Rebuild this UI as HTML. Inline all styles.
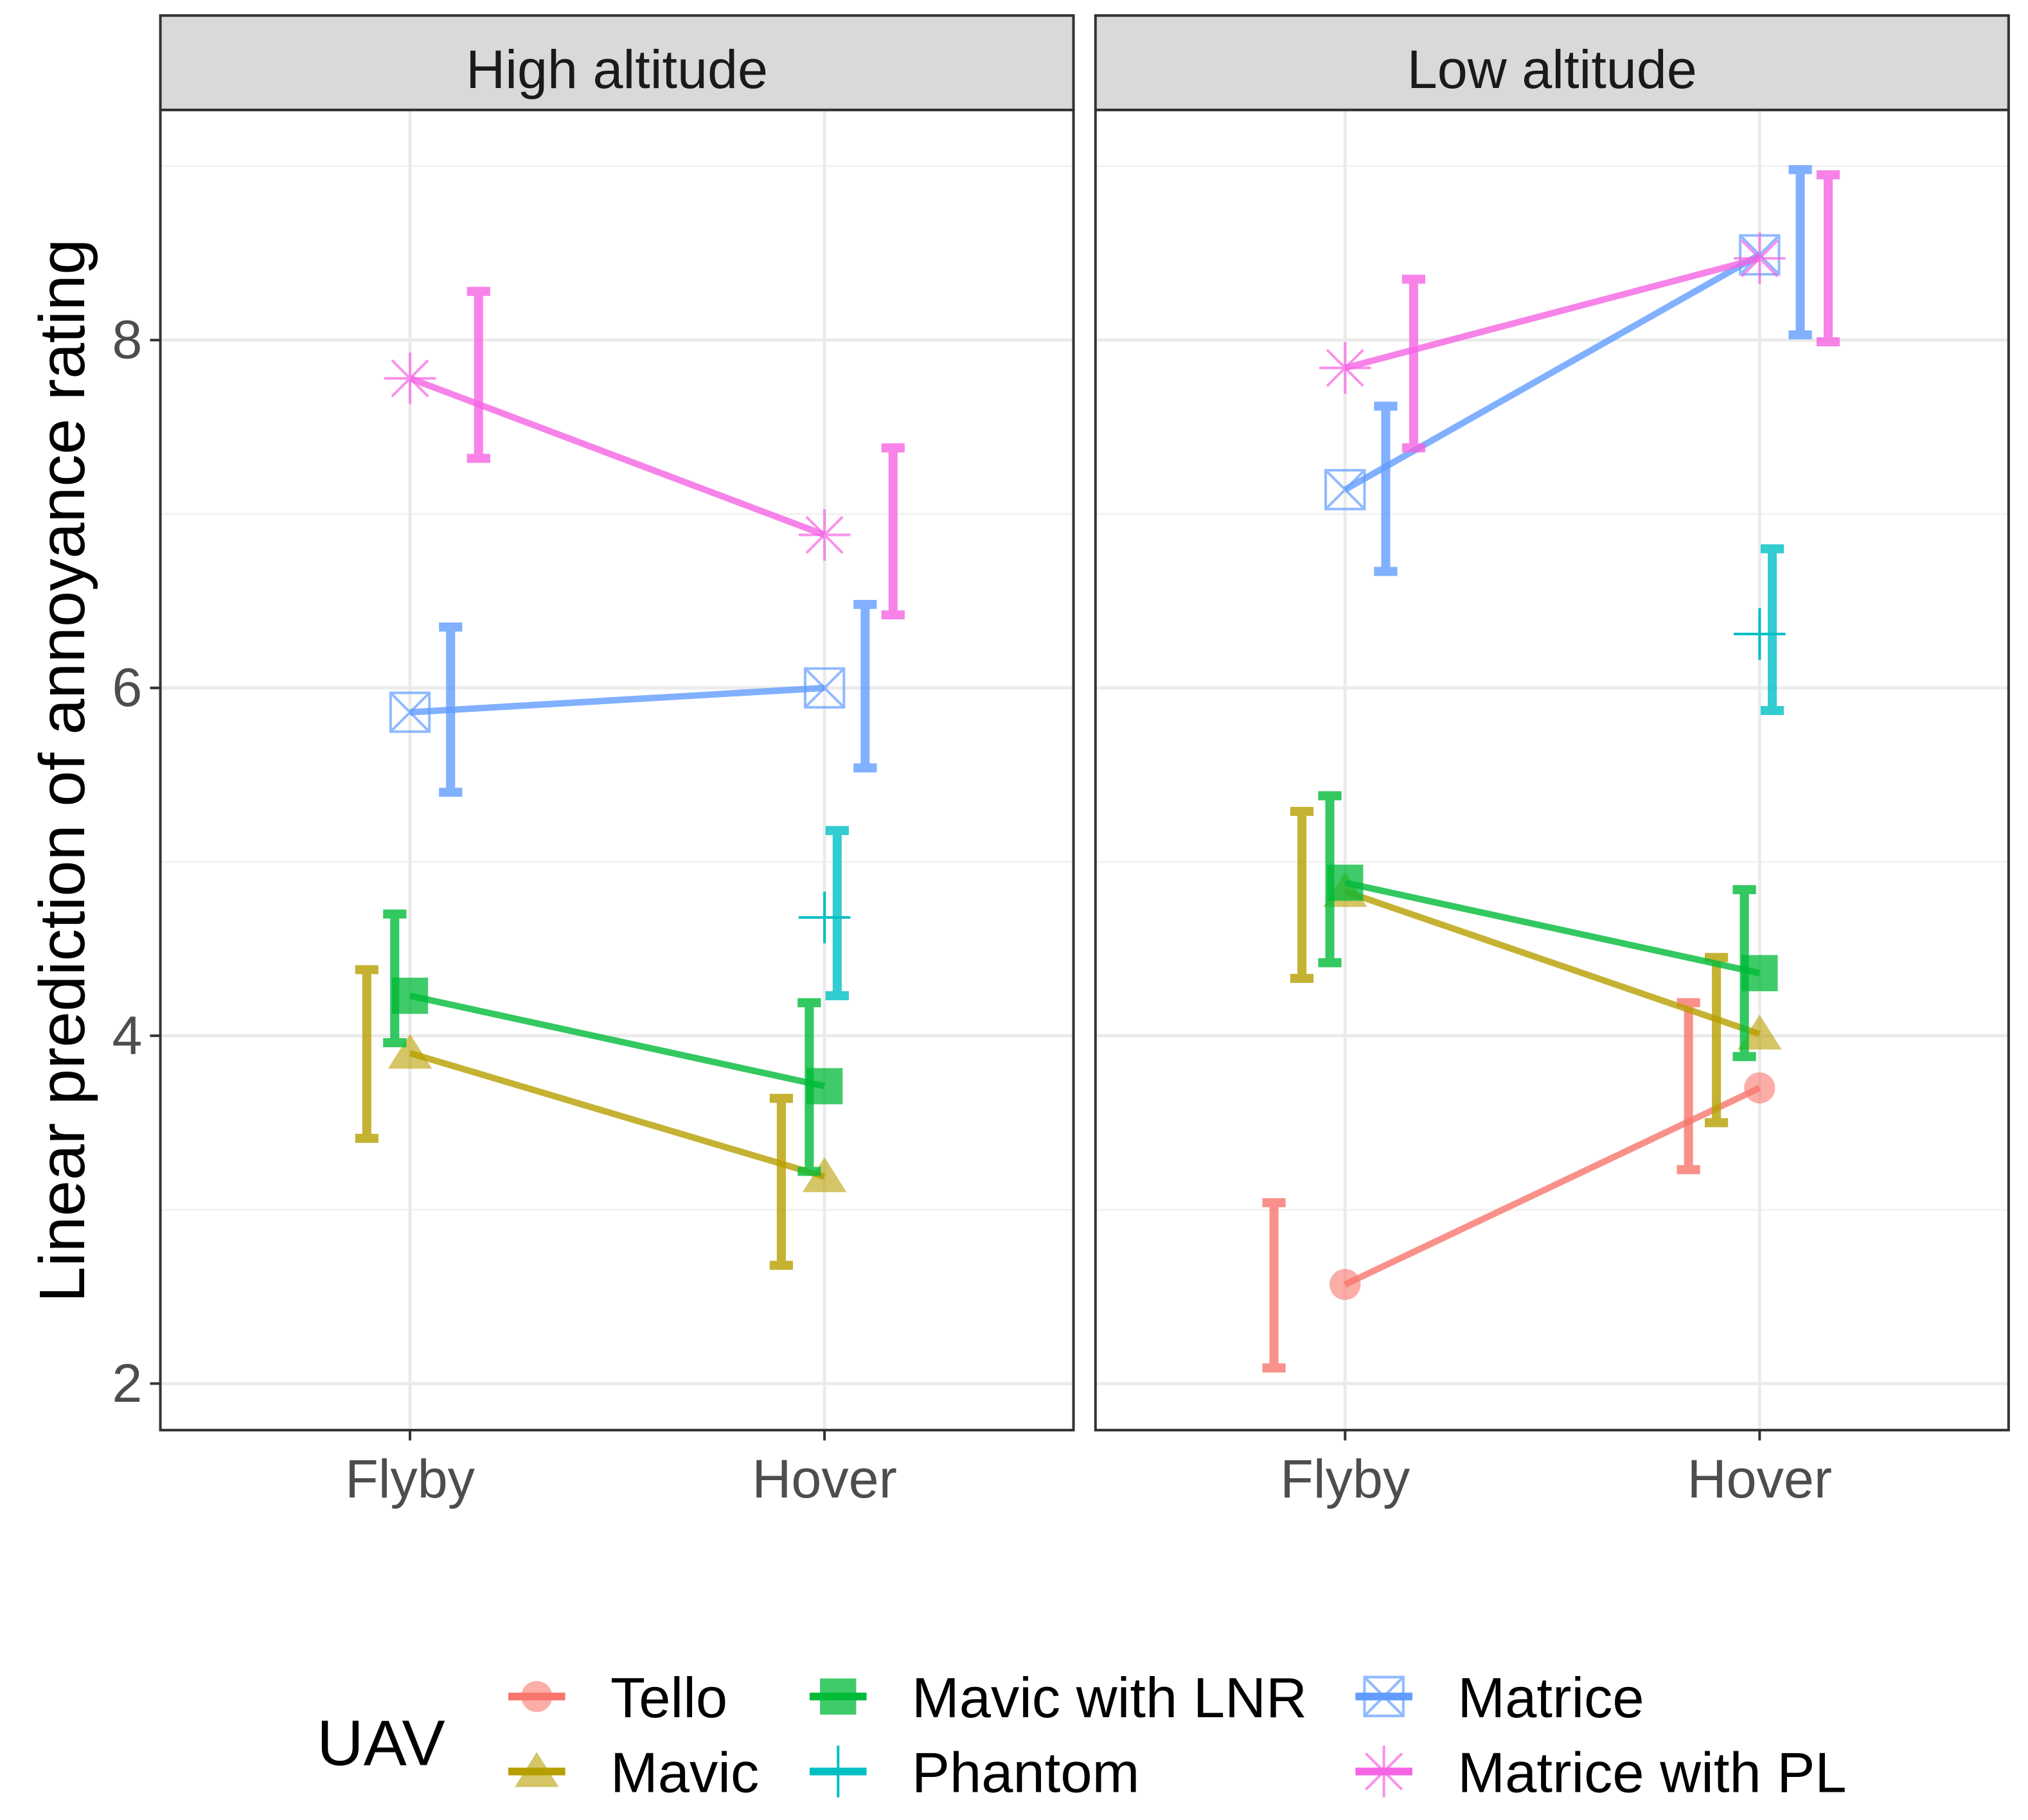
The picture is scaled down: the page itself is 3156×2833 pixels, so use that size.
<!DOCTYPE html>
<html><head><meta charset="utf-8"><style>
html,body{margin:0;padding:0;background:#fff}
svg{display:block}
text{font-family:"Liberation Sans",sans-serif}
</style></head><body>
<svg id="chart" width="3156" height="2833" viewBox="0 0 1568 1407.5" xmlns="http://www.w3.org/2000/svg">
<rect width="1568" height="1408" fill="#fff"/>
<g id="panels"></g>
<text transform="translate(65,596) rotate(-90)" text-anchor="middle" font-size="50" fill="#000">Linear prediction of annoyance rating</text>
<g id="legend"></g>
</svg>
<script>
const panels = ["High altitude","Low altitude"];
const conditions = ["Flyby","Hover"];
const series = ["Tello","Mavic","Mavic with LNR","Phantom","Matrice","Matrice with PL"];
const colors = ["#F8766D","#B79F00","#00BA38","#00BFC4","#619CFF","#F564E3"];
const yTicks = [2,4,6,8];
const estHigh = [[null,null],[3.90,3.19],[4.23,3.71],[null,4.68],[5.86,6.00],[7.78,6.88]];
const loHigh  = [[null,null],[3.41,2.68],[3.96,3.22],[null,4.23],[5.40,5.54],[7.32,6.42]];
const upHigh  = [[null,null],[4.38,3.64],[4.70,4.19],[null,5.18],[6.35,6.48],[8.28,7.38]];
const estLow  = [[2.57,3.70],[4.83,4.01],[4.88,4.36],[null,6.31],[7.14,8.49],[7.84,8.47]];
const loLow   = [[2.09,3.23],[4.33,3.50],[4.42,3.88],[null,5.87],[6.67,8.03],[7.38,7.99]];
const upLow   = [[3.04,4.19],[5.29,4.45],[5.38,4.84],[null,6.80],[7.62,8.98],[8.35,8.95]];
const est=[estHigh,estLow], lo=[loHigh,loLow], up=[upHigh,upLow];

const NS="http://www.w3.org/2000/svg";
function mk(tag,attrs,parent){const e=document.createElementNS(NS,tag);for(const k in attrs)e.setAttribute(k,attrs[k]);parent.appendChild(e);return e;}
const panelX=[124,847], panelW=706, plotTop=85, plotBottom=1106;
const yScale=v=>1070-(v-2)*134.5;
const xScale=(p,c)=>panelX[p]+193+c*320.5;
const dodge=s=>-55+s*21.6;
const root=document.getElementById('panels');

function marker(s,cx,cy,g){
  const c=colors[s];let m;
  if(s===0){m=mk('circle',{cx,cy,r:12,fill:c,'fill-opacity':0.6},g);}
  else if(s===1){m=mk('polygon',{points:`${cx},${cy-15} ${cx-17},${cy+12} ${cx+17},${cy+12}`,fill:c,'fill-opacity':0.6},g);}
  else if(s===2){m=mk('rect',{x:cx-14,y:cy-14,width:28,height:28,fill:c,'fill-opacity':0.75},g);}
  else if(s===3){m=mk('path',{d:`M${cx-20},${cy}H${cx+20}M${cx},${cy-20}V${cy+20}`,stroke:c,'stroke-width':2,fill:'none'},g);}
  else if(s===4){m=mk('path',{d:`M${cx-15},${cy-15}h30v30h-30zM${cx-15},${cy-15}L${cx+15},${cy+15}M${cx+15},${cy-15}L${cx-15},${cy+15}`,stroke:c,'stroke-width':2,fill:'none','stroke-opacity':0.7},g);}
  else {m=mk('path',{d:`M${cx-20},${cy}H${cx+20}M${cx},${cy-20}V${cy+20}M${cx-14},${cy-14}L${cx+14},${cy+14}M${cx+14},${cy-14}L${cx-14},${cy+14}`,stroke:c,'stroke-width':2,fill:'none','stroke-opacity':0.7},g);}
  
  
}

for(let p=0;p<2;p++){
  const g=mk('g',{},root);
  
  
  const px=panelX[p];
  mk('rect',{x:px,y:plotTop,width:panelW,height:plotBottom-plotTop,fill:'#fff'},g);
  for(let v=3;v<=9;v+=2) mk('line',{x1:px,x2:px+panelW,y1:yScale(v),y2:yScale(v),stroke:'#F2F2F2','stroke-width':1.5},g);
  yTicks.forEach(v=>mk('line',{x1:px,x2:px+panelW,y1:yScale(v),y2:yScale(v),stroke:'#EBEBEB','stroke-width':2.5},g));
  for(let c=0;c<2;c++) mk('line',{x1:xScale(p,c),x2:xScale(p,c),y1:plotTop,y2:plotBottom,stroke:'#EBEBEB','stroke-width':2.5},g);
  for(let s=0;s<series.length;s++){
    const e=est[p][s],l=lo[p][s],u=up[p][s];
    if(e[0]!=null&&e[1]!=null){
      const ln=mk('line',{x1:xScale(p,0),y1:yScale(e[0]),x2:xScale(p,1),y2:yScale(e[1]),stroke:colors[s],'stroke-width':5,'stroke-opacity':0.8},g);
      
      
    }
    for(let c=0;c<2;c++){
      if(e[c]==null)continue;
      const bx=xScale(p,c)+dodge(s);
      const eb=mk('path',{d:`M${bx-9},${yScale(u[c])}H${bx+9}M${bx},${yScale(u[c])}V${yScale(l[c])}M${bx-9},${yScale(l[c])}H${bx+9}`,stroke:colors[s],'stroke-width':7,fill:'none','stroke-opacity':0.8},g);
      
      
      marker(s,xScale(p,c),yScale(e[c]),g);
    }
  }
  mk('rect',{x:px,y:plotTop,width:panelW,height:plotBottom-plotTop,fill:'none',stroke:'#333','stroke-width':2},g);
  mk('rect',{x:px,y:12,width:panelW,height:73,fill:'#D9D9D9',stroke:'#333','stroke-width':2},g);
  const st=mk('text',{x:px+panelW/2,y:68,'text-anchor':'middle','font-size':42,fill:'#1A1A1A'},g);
  st.textContent=panels[p];
  
  
  for(let c=0;c<2;c++){
    mk('line',{x1:xScale(p,c),x2:xScale(p,c),y1:plotBottom,y2:plotBottom+8,stroke:'#333','stroke-width':2},g);
    const t=mk('text',{x:xScale(p,c),y:1158,'text-anchor':'middle','font-size':42,fill:'#4D4D4D'},g);
    t.textContent=conditions[c];
    
    
  }
}
yTicks.forEach(v=>{
  mk('line',{x1:116,x2:124,y1:yScale(v),y2:yScale(v),stroke:'#333','stroke-width':2},root);
  const t=mk('text',{x:110,y:yScale(v)+14,'text-anchor':'end','font-size':42,fill:'#4D4D4D'},root);
  t.textContent=v;
  
  
});

const lg=document.getElementById('legend');
const ttl=mk('text',{x:245,y:1365,'font-size':50,fill:'#000'},lg);
ttl.textContent='UAV';


const keyX=[415,415,648,648,1070,1070], keyY=[1312,1370,1312,1370,1312,1370];
for(let s=0;s<series.length;s++){
  const eg=mk('g',{},lg);
  
  
  mk('line',{x1:keyX[s]-22,x2:keyX[s]+22,y1:keyY[s],y2:keyY[s],stroke:colors[s],'stroke-width':6},eg);
  marker(s,keyX[s],keyY[s],eg);
  const t=mk('text',{x:keyX[s]+57,y:keyY[s]+16,'font-size':44,fill:'#000'},eg);
  t.textContent=series[s];
}
</script>
</body></html>
